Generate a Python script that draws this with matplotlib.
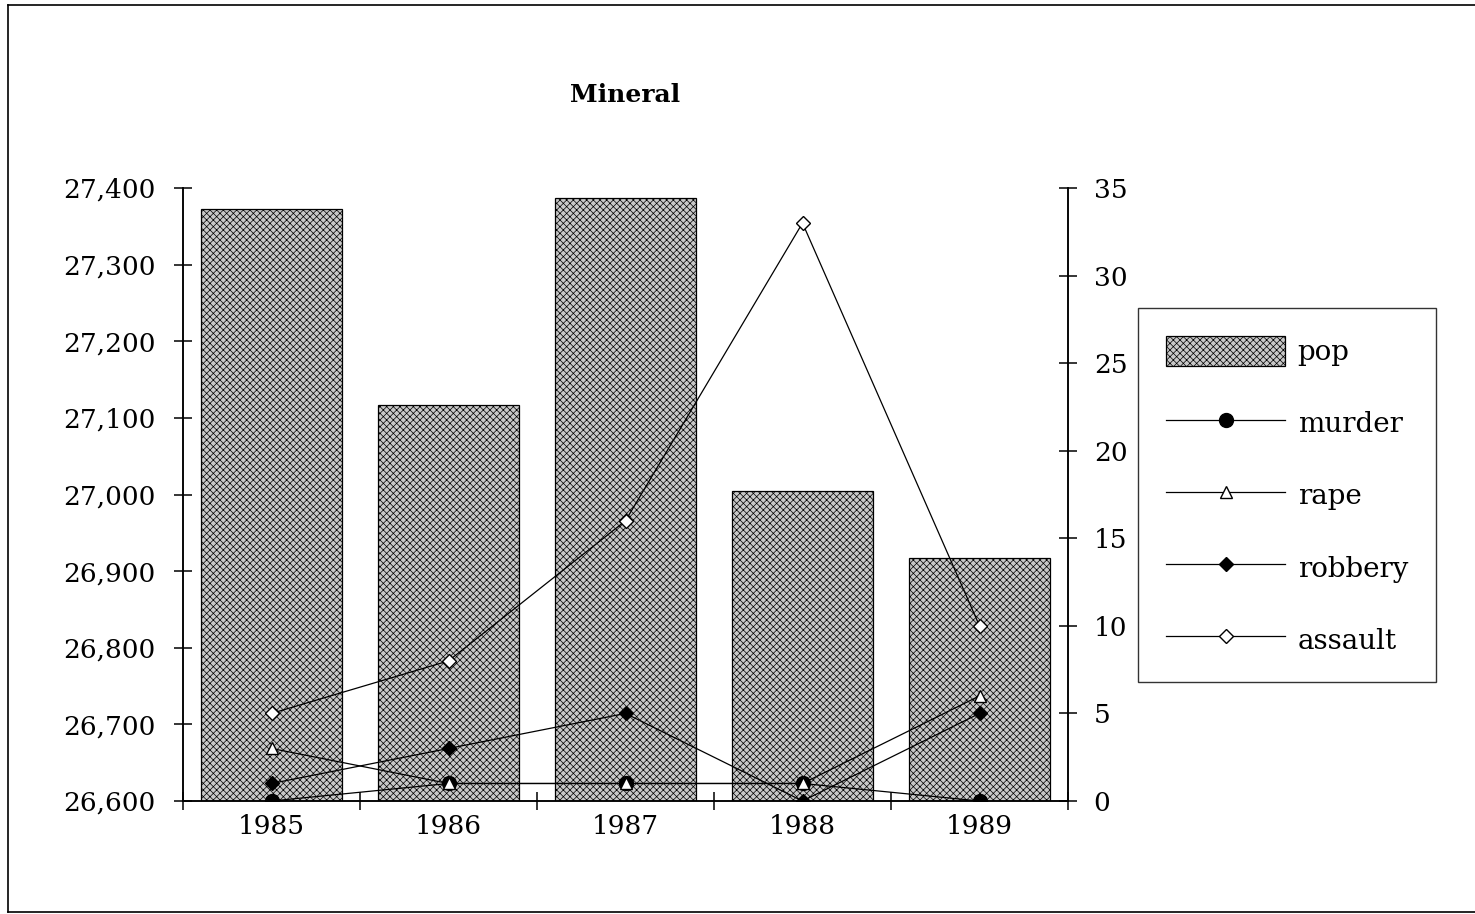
import matplotlib
matplotlib.use("Agg")
import matplotlib.pyplot as plt
import numpy as np
from matplotlib.lines import Line2D

# data
years = ['1985', '1986', '1987', '1988', '1989']
pop = [27372, 27117, 27387, 27005, 26917]
murder = [0, 1, 1, 1, 0]
rape = [3, 1, 1, 1, 6]
robbery = [1, 3, 5, 0, 5]
assault = [5, 8, 16, 33, 10]

plt.rcParams['font.family'] = 'DejaVu Serif'
plt.rcParams['hatch.color'] = '#707070'
plt.rcParams['hatch.linewidth'] = 0.5

W, H = 1475, 914
fig = plt.figure(figsize=(W / 100, H / 100), dpi=100)
ax = fig.add_axes([183 / W, 1 - 801 / H, (1068 - 183) / W, (801 - 188) / H])
ax2 = ax.twinx()

x = np.arange(len(years))
bars = ax.bar(x, pop, width=0.8, color='#c8c8c8', edgecolor='black',
              linewidth=0.9, hatch='xxxxx', label='pop', zorder=1)
ax.set_ylim(26600, 27400)
ax.set_xlim(-0.5, len(years) - 0.5)
ax.set_yticks(np.arange(26600, 27401, 100))
ax.set_yticklabels([f"{v:,}" for v in range(26600, 27401, 100)])

lw = 0.9
ms = 10
l1, = ax2.plot(x, murder, color='black', lw=lw, marker='o', ms=ms,
               mfc='black', mec='black', label='murder')
l2, = ax2.plot(x, rape, color='black', lw=lw, marker='^', ms=ms - 2,
               mfc='white', mec='black', label='rape')
l3, = ax2.plot(x, robbery, color='black', lw=lw, marker='D', ms=ms - 3,
               mfc='black', mec='black', label='robbery')
l4, = ax2.plot(x, assault, color='black', lw=lw, marker='D', ms=ms - 3,
               mfc='white', mec='black', label='assault')
ax2.set_ylim(0, 35)
ax2.set_yticks(range(0, 36, 5))

for a in (ax, ax2):
    a.spines['top'].set_visible(False)
    for s in ('left', 'right', 'bottom'):
        a.spines[s].set_linewidth(1.1)

ax.set_xticks(x)
ax.set_xticklabels(years)
ax.set_xticks(np.arange(-0.5, len(years)), minor=True)
ax.tick_params(axis='x', which='major', length=0, pad=9, labelsize=19)
ax.tick_params(axis='x', which='minor', direction='inout', length=13, width=1.1)
ax.tick_params(axis='y', direction='inout', length=13, width=1.1, pad=13, labelsize=19)
ax2.tick_params(axis='y', direction='inout', length=13, width=1.1, pad=12, labelsize=19)

fig.text(625 / W, 1 - 95 / H, 'Mineral', ha='center', va='center',
         fontsize=18, fontweight='bold')

leg = fig.legend([bars, l1, l2, l3, l4], ['pop', 'murder', 'rape', 'robbery', 'assault'],
                 loc='upper left', bbox_to_anchor=(1138 / W, 1 - 308 / H),
                 frameon=True, fancybox=False, edgecolor='black', fontsize=20,
                 handlelength=4.3, handleheight=1.3, handletextpad=0.45,
                 labelspacing=1.5, borderpad=1.0, borderaxespad=0)
leg.get_frame().set_linewidth(1.0)

# outer border around the page
fig.add_artist(Line2D([8 / W, 8 / W], [1 - 912 / H, 1 - 5 / H], color='black', lw=1.2))
fig.add_artist(Line2D([8 / W, 1], [1 - 5 / H, 1 - 5 / H], color='black', lw=1.2))
fig.add_artist(Line2D([8 / W, 1], [1 - 912 / H, 1 - 912 / H], color='black', lw=1.2))

fig.savefig('out.png', dpi=100)
